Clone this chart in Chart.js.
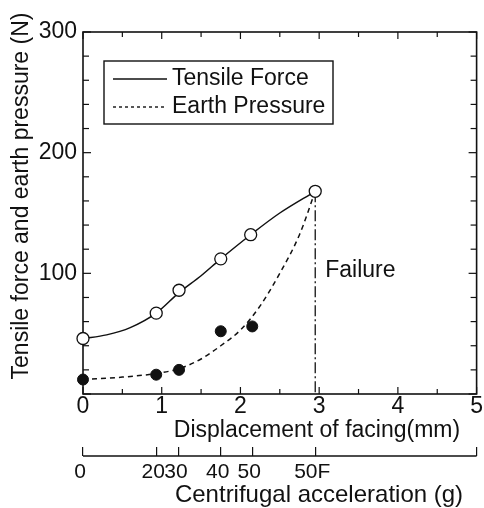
<!DOCTYPE html>
<html>
<head>
<meta charset="utf-8">
<script src="https://cdn.jsdelivr.net/npm/chart.js@4.4.0/dist/chart.umd.min.js"></script>
<style>
  html, body { margin: 0; padding: 0; background: #fff; }
  #wrap { width: 484px; height: 508px; }
</style>
</head>
<body>
<div id="wrap"><canvas id="chart" width="484" height="508"></canvas></div>
<script>
// Datos
const tensileDisp = [0, 0.93, 1.22, 1.75, 2.13, 2.95];
const tensileForce = [46, 67, 86, 112, 132, 168];
const earthDisp = [0, 0.93, 1.22, 1.75, 2.15];
const earthPressure = [12, 16, 20, 52, 56];

// Curvas ajustadas (puntos leídos sobre las líneas)
const tensileCurveDisp = [0, 0.3, 0.6, 0.93, 1.22, 1.5, 1.75, 2.13, 2.5, 2.95];
const tensileCurveForce = [46, 49, 55, 67, 84, 98, 112, 132, 150, 168];
const earthCurveDisp = [0, 0.5, 0.93, 1.22, 1.5, 1.75, 2.0, 2.25, 2.5, 2.75, 2.95];
const earthCurvePressure = [12, 14, 17, 21, 29, 40, 53, 73, 100, 132, 168];

// Línea de falla
const failureDisp = [2.95, 2.95];
const failureForce = [168, 0];

// Eje secundario: aceleración centrífuga
const accelDisp = [0, 0.93, 1.22, 1.75, 2.15, 2.95, 5];
const accelLabels = ['0', '20', '30', '40', '50', '50F', ''];

const FONT = '"Liberation Sans", Arial, Helvetica, sans-serif';
const INK = '#111';

function toPoints(xs, ys) {
    return xs.map((x, i) => ({ x: x, y: ys[i] }));
}

function line(ctx, x1, y1, x2, y2) {
    ctx.beginPath();
    ctx.moveTo(x1, y1);
    ctx.lineTo(x2, y2);
    ctx.stroke();
}

// Marco, ticks hacia adentro y eje de aceleración
const framePlugin = {
    id: 'frame',
    beforeDatasetsDraw(chart) {
        const { ctx, chartArea: a, scales: { x, y, x2 } } = chart;
        ctx.save();
        ctx.strokeStyle = INK;
        ctx.lineWidth = 1.6;
        ctx.strokeRect(a.left, a.top, a.right - a.left, a.bottom - a.top);

        ctx.lineWidth = 1.2;
        for (let v = 0; v <= 300; v += 20) {
            const py = y.getPixelForValue(v);
            const len = v % 100 === 0 ? 8 : 6;
            line(ctx, a.left, py, a.left + len, py);
            line(ctx, a.right, py, a.right - len, py);
        }
        for (let v = 0; v <= 5; v += 0.5) {
            const px = x.getPixelForValue(v);
            const len = v % 1 === 0 ? 7 : 5;
            line(ctx, px, a.bottom, px, a.bottom - len);
            line(ctx, px, a.top, px, a.top + len);
        }

        const ly = x2.top + x2.options.grid.tickLength;
        ctx.lineWidth = 1.3;
        line(ctx, x2.left, ly, x2.right, ly);
        ctx.restore();
    },
    afterDraw(chart) {
        const { ctx, chartArea: a, scales: { x, y } } = chart;
        ctx.save();
        ctx.fillStyle = INK;
        ctx.strokeStyle = INK;
        ctx.font = '23px ' + FONT;
        ctx.textBaseline = 'middle';

        // Leyenda
        const bx = a.left + 21, by = a.top + 29, bw = 229, bh = 63;
        ctx.fillStyle = '#fff';
        ctx.fillRect(bx, by, bw, bh);
        ctx.fillStyle = INK;
        ctx.lineWidth = 1.4;
        ctx.strokeRect(bx, by, bw, bh);
        const entries = [chart.data.datasets[2], chart.data.datasets[3]];
        entries.forEach((ds, i) => {
            const ry = by + 18 + i * 28;
            ctx.lineWidth = 1.4;
            ctx.setLineDash(i === 0 ? [] : [3, 3]);
            line(ctx, bx + 9, ry, bx + 63, ry);
            ctx.setLineDash([]);
            ctx.textAlign = 'left';
            ctx.fillText(ds.label, bx + 68, ry);
        });

        // Texto de falla
        ctx.textAlign = 'left';
        ctx.fillText('Failure', x.getPixelForValue(failureDisp[0]) + 10, y.getPixelForValue(102));

        // Títulos de ejes
        ctx.textAlign = 'center';
        ctx.fillText('Displacement of facing(mm)', a.left + 234, 431);
        ctx.font = '24px ' + FONT;
        ctx.fillText('Centrifugal acceleration (g)', a.left + 236, 495);

        ctx.font = '23px ' + FONT;
        ctx.save();
        ctx.translate(22, 196);
        ctx.rotate(-Math.PI / 2);
        ctx.fillText('Tensile force and earth pressure (N)', 0, 0);
        ctx.restore();

        ctx.restore();
    }
};

Chart.defaults.font.family = FONT;
Chart.defaults.color = INK;

const ctx = document.getElementById('chart').getContext('2d');

new Chart(ctx, {
    type: 'scatter',
    data: {
        datasets: [
            {
                label: 'Tensile points',
                data: toPoints(tensileDisp, tensileForce),
                pointStyle: 'circle',
                pointRadius: 6,
                pointBackgroundColor: '#fff',
                pointBorderColor: INK,
                pointBorderWidth: 1.3,
                showLine: false,
                clip: false
            },
            {
                label: 'Earth points',
                data: toPoints(earthDisp, earthPressure),
                pointStyle: 'circle',
                pointRadius: 5.5,
                pointBackgroundColor: INK,
                pointBorderColor: INK,
                pointBorderWidth: 1,
                showLine: false,
                clip: false
            },
            {
                label: 'Tensile Force',
                data: toPoints(tensileCurveDisp, tensileCurveForce),
                showLine: true,
                borderColor: INK,
                borderWidth: 1.5,
                pointRadius: 0,
                cubicInterpolationMode: 'monotone',
                clip: false
            },
            {
                label: 'Earth Pressure',
                data: toPoints(earthCurveDisp, earthCurvePressure),
                showLine: true,
                borderColor: INK,
                borderWidth: 1.5,
                borderDash: [5, 4],
                pointRadius: 0,
                cubicInterpolationMode: 'monotone',
                clip: false
            },
            {
                label: 'Failure',
                data: toPoints(failureDisp, failureForce),
                showLine: true,
                borderColor: INK,
                borderWidth: 1.3,
                borderDash: [11, 3, 2, 3],
                pointRadius: 0
            }
        ]
    },
    options: {
        responsive: false,
        animation: false,
        devicePixelRatio: 1,
        layout: { padding: { top: 32, right: 7, left: 0, bottom: 0 } },
        plugins: {
            legend: { display: false },
            tooltip: { enabled: false }
        },
        scales: {
            x: {
                type: 'linear',
                position: 'bottom',
                weight: 0,
                min: 0,
                max: 5,
                afterFit: s => { s.height = 53; },
                grid: { display: false, drawTicks: false },
                border: { display: false },
                ticks: {
                    stepSize: 1,
                    maxRotation: 0,
                    padding: 1,
                    font: { size: 23, lineHeight: 1 }
                }
            },
            x2: {
                type: 'linear',
                position: 'bottom',
                weight: 1,
                min: 0,
                max: 5,
                afterBuildTicks: s => { s.ticks = accelDisp.map(v => ({ value: v })); },
                afterFit: s => { s.height = 61; },
                grid: {
                    display: true,
                    drawOnChartArea: false,
                    drawTicks: true,
                    tickLength: 9,
                    color: INK,
                    lineWidth: 1.2
                },
                border: { display: false },
                ticks: {
                    autoSkip: false,
                    maxRotation: 0,
                    padding: 6,
                    labelOffset: -3,
                    font: { size: 21, lineHeight: 1 },
                    callback: (v, i) => accelLabels[i]
                }
            },
            y: {
                type: 'linear',
                position: 'left',
                min: 0,
                max: 300,
                afterFit: s => { s.width = 83; },
                grid: { display: false, drawTicks: false },
                border: { display: false },
                ticks: {
                    stepSize: 100,
                    padding: 6,
                    font: { size: 23 },
                    callback: v => (v === 0 ? '' : v)
                }
            }
        }
    },
    plugins: [framePlugin]
});
</script>
</body>
</html>
